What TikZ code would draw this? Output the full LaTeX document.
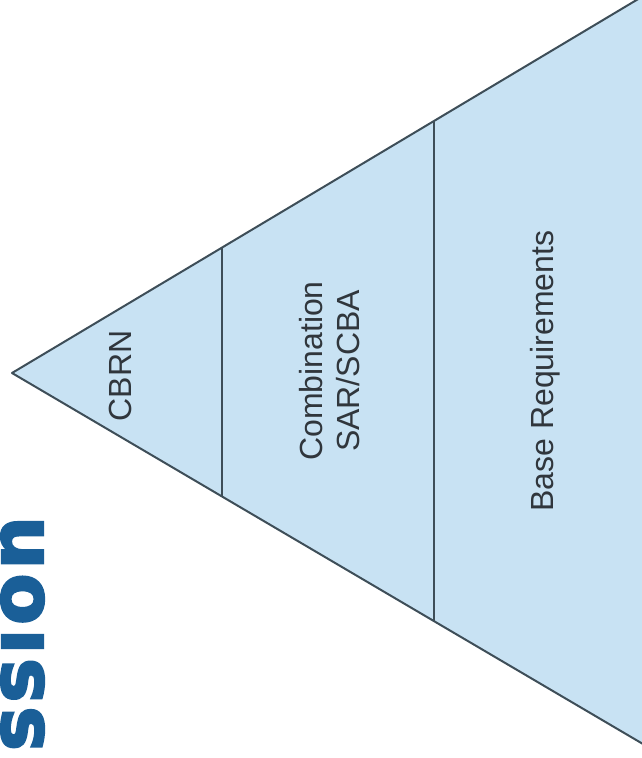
\documentclass[tikz,border=0pt]{standalone}
\usepackage{fontspec}
\setmainfont{Liberation Sans}
\newfontfamily\bannerfont[FakeBold=3,LetterSpace=5]{DejaVu Sans Bold}
\usepackage{xcolor}
\usetikzlibrary{positioning}
\definecolor{tierfill}{HTML}{C8E2F3}
\definecolor{tierline}{HTML}{3E4E58}
\definecolor{tiertext}{HTML}{30363C}
\definecolor{bannerblue}{HTML}{1A5F98}

\begin{document}
\begin{tikzpicture}[x=1pt, y=-1pt,
  edge/.style={draw=tierline, line width=2pt, line join=round},
  divider/.style={draw=tierline, line width=2.6pt},
  lbl/.style={rotate=90, text=tiertext, font=\fontsize{32}{37}\selectfont, align=center, inner sep=0pt}]
\fill[white] (0,0) rectangle (642,758);
\useasboundingbox (0,0) rectangle (642,758);
\clip (0,0) rectangle (642,758);
% pyramid lying on its side
\coordinate (apex) at (12,373);
\coordinate (tr) at (660,-14);
\coordinate (br) at (660,754);
\coordinate (d1t) at (222,248);
\coordinate (d1b) at (222,497);
\coordinate (d2t) at (434,121);
\coordinate (d2b) at (434,621);
\fill[tierfill] (apex) -- (tr) -- (br) -- cycle;
\draw[divider] (d1t) -- (d1b);
\draw[divider] (d2t) -- (d2b);
\draw[edge] (tr) -- (apex) -- (br);
% tiers
\node[lbl, anchor=base] (cbrn) at (131,376) {CBRN};
\node[lbl] (combo) at (330,371) {Combination\\SAR/SCBA};
\node[lbl, anchor=base] (basereq) at (553,371) {Base Requirements};
% heading cut by the page edge
\node[rotate=90, anchor=base east, text=bannerblue, inner sep=0pt,
  font=\bannerfont\fontsize{75}{80}\selectfont] (banner) at (43,516) {ssion};
\end{tikzpicture}
\end{document}
